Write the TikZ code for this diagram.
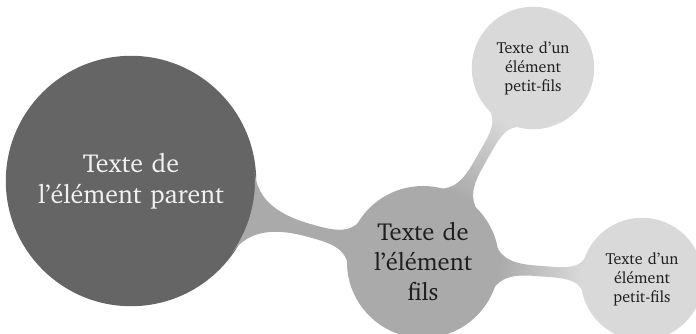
\documentclass[tikz,border=0pt]{standalone}
\usepackage[T1]{fontenc}
\usepackage{charter}
\usetikzlibrary{mindmap}
\definecolor{cparent}{HTML}{656565}
\definecolor{cchild}{HTML}{AAAAAA}
\definecolor{cgrand}{HTML}{D9D9D9}
\definecolor{ctext}{HTML}{1E1E1E}
\tikzset{
  parentbox/.style={concept, concept color=cparent, minimum size=124pt, inner sep=0pt,
    text width=110pt, align=center, text=white!95!black, font=\fontsize{13}{15.8}\selectfont},
  childbox/.style={concept, concept color=cchild, minimum size=73pt, inner sep=0pt,
    text width=64pt, align=center, text=ctext, font=\fontsize{12.3}{15}\selectfont},
  grandbox/.style={concept, concept color=cgrand, minimum size=60pt, inner sep=0pt,
    text width=52pt, align=center, text=ctext, font=\fontsize{8}{9.4}\selectfont},
  barlink/.style={line width=6pt}
}
\begin{document}
\begin{tikzpicture}[x=0.5pt,y=-0.5pt,mindmap]
\useasboundingbox (0,0) rectangle (696,333);
\node[parentbox] (p) at (131,181) {Texte de\\l'\'el\'ement parent};
\node[childbox] (c) at (423,262) {Texte de\\l'\'el\'ement\\fils};
\node[grandbox] (g1) at (533,68) {Texte d'un\\\'el\'ement\\petit-fils};
\node[grandbox] (g2) at (642,279) {Texte d'un\\\'el\'ement\\petit-fils};
\path[barlink] (p) to[circle connection bar switch color=from (cchild) to (cchild)] (c);
\path[barlink] (c) to[circle connection bar switch color=from (cchild) to (cgrand)] (g1);
\path[barlink] (c) to[circle connection bar switch color=from (cchild) to (cgrand)] (g2);
\end{tikzpicture}
\end{document}
